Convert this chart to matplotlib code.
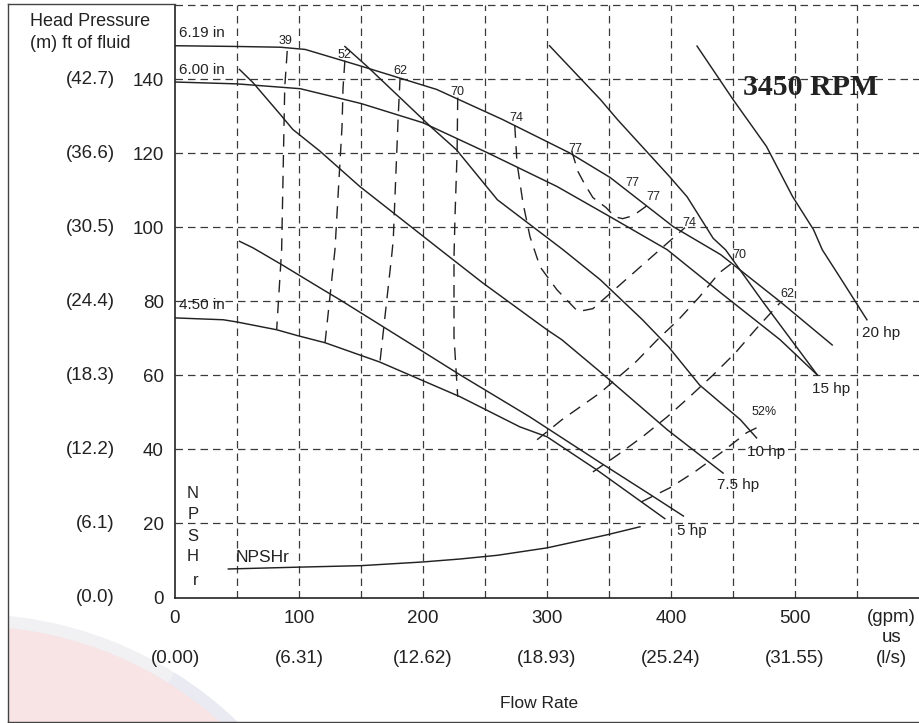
import matplotlib
matplotlib.use("Agg")
import matplotlib.pyplot as plt
from matplotlib.lines import Line2D
from matplotlib.patches import Wedge, Rectangle

# ---------------- data ----------------
# impeller head curves (flow gpm, head ft)
imp619_x = [0, 50, 85, 105, 150, 211, 264, 318, 351, 402, 440, 488, 530]
imp619_y = [149, 148.8, 148.6, 148, 143.5, 137.2, 129.1, 120.1, 113.4, 100.1, 92.6, 79.9, 68.2]
imp600_x = [0, 50, 101, 150, 200, 252, 308, 351, 397, 440, 488, 518]
imp600_y = [139.2, 138.7, 137.4, 133.4, 128.2, 120.1, 111, 102.8, 93.9, 82.3, 69.6, 60.1]
imp450_x = [0, 39, 50, 82, 99, 121, 165, 230, 278, 300, 340, 395]
imp450_y = [75.5, 75, 74.4, 72.3, 70.7, 68.8, 63.6, 54.2, 46.1, 43.4, 34.5, 21.3]
impeller_labels = ["6.19 in", "6.00 in", "4.50 in"]
impeller_label_y = [150.5, 140.5, 77.0]

# power curves
hp5_x = [52, 63, 86, 117, 133, 200, 230, 286, 343, 386, 410]
hp5_y = [96.2, 94.4, 89.9, 83.6, 80.4, 66.4, 60.1, 48.8, 36.4, 27.2, 22]
hp75_x = [52, 63, 85, 95, 117, 149, 214, 248, 300, 312, 343, 397, 442]
hp75_y = [142.6, 139, 130.4, 126.4, 120.5, 111, 93.9, 85, 72.3, 69.6, 60.9, 45.3, 33.6]
hp10_x = [137, 155, 206, 227, 260, 313, 343, 377, 398, 423, 456, 469]
hp10_y = [148.8, 143.4, 127.2, 120.9, 107.4, 93.9, 85.8, 75, 67.7, 57.4, 48, 43.1]
hp15_x = [302, 343, 357, 399, 413, 434, 444, 474, 518]
hp15_y = [149, 134.5, 129, 113.6, 108.2, 97, 93.9, 79.9, 60.1]
hp20_x = [421, 450, 477, 498, 515, 522, 536, 558]
hp20_y = [148.9, 134.5, 121.8, 108.3, 99.3, 93.9, 86.6, 75]
hp_labels = ["5 hp", "7.5 hp", "10 hp", "15 hp", "20 hp"]
hp_label_x = [405, 437, 461, 514, 554]
hp_label_y = [18.0, 30.4, 39.3, 56.4, 71.5]

# NPSHr curve
npsh_x = [43, 100, 150, 200, 230, 260, 300, 348, 375]
npsh_y = [7.7, 8.2, 8.6, 9.6, 10.4, 11.4, 13.4, 16.9, 19.1]

# iso-efficiency contours (%)
eff39_x = [90.5, 88.5, 86, 82]
eff39_y = [147.6, 137.8, 93.9, 72.4]
eff52_x = [137, 135.5, 134.7, 129, 121]
eff52_y = [145, 137.5, 127.2, 93.9, 68.8]
eff62_x = [181.5, 180, 176, 175, 165.3]
eff62_y = [140.3, 129.9, 96.6, 93.1, 63.6]
eff70_x = [228, 227.5, 225.8, 225, 225, 228]
eff70_y = [135, 120.1, 102.8, 91.8, 70.4, 54.2]
eff74_x = [274, 275.8, 280.6, 286.3, 294.4, 308, 325, 337, 411.3]
eff74_y = [127.5, 117.4, 106.6, 97.4, 89.3, 83.1, 77.2, 78, 99.9]
eff77_x = [320, 325, 330.6, 337, 347.6, 354.8, 361, 369.4, 380.6]
eff77_y = [120.5, 115, 111.5, 108, 105.3, 102.8, 102.3, 103.1, 105.8]
eff52r_x = [376, 399, 419, 440, 461, 470]
eff52r_y = [25.8, 29.6, 33.9, 39, 44.5, 46]
eff62r_x = [337, 357, 377, 397, 415, 434, 452, 468, 488]
eff62r_y = [33.9, 38.5, 43.4, 48.8, 54.2, 60.1, 66.1, 72.3, 79.6]
eff70r_x = [292, 312, 343, 371, 389, 406, 423, 439, 450]
eff70r_y = [42.6, 48, 55.3, 63.4, 69.6, 75, 81.2, 87.7, 90.5]

eff_labels = ["39", "52", "62", "70", "74", "77", "77", "77", "74", "70", "62", "52%"]
eff_label_x = [89.5, 137, 182, 228, 275, 322.6, 369, 385.5, 415, 455, 494, 475]
eff_label_y = [150.2, 146.6, 142.3, 136.6, 129.6, 121.2, 111.8, 108.2, 101, 92.6, 82, 50.1]

# axis labels
gpm_ticks = [0, 100, 200, 300, 400, 500]
gpm_labels = ["0", "100", "200", "300", "400", "500"]
ls_labels = ["(0.00)", "(6.31)", "(12.62)", "(18.93)", "(25.24)", "(31.55)"]
ft_ticks = [0, 20, 40, 60, 80, 100, 120, 140]
ft_labels = ["0", "20", "40", "60", "80", "100", "120", "140"]
m_labels = ["(0.0)", "(6.1)", "(12.2)", "(18.3)", "(24.4)", "(30.5)", "(36.6)", "(42.7)"]
npsh_letters = ["N", "P", "S", "H", "r"]
npsh_letter_y = [28.2, 22.3, 16.4, 11.0, 4.7]

# ---------------- figure ----------------
plt.rcParams['font.family'] = ['Liberation Sans', 'DejaVu Sans']
W, H = 919, 723
fig = plt.figure(figsize=(W / 100, H / 100), dpi=100)
fig.patch.set_facecolor("white")

# faint watermark swoosh in the lower-left corner (pixel units -> inches)
clip = Rectangle((8 / 100, 1 / 100), (W - 8) / 100, 1.3, transform=fig.dpi_scale_trans,
                 facecolor="none", edgecolor="none")
fig.add_artist(clip)
cx, cy = -30 / 100, -(1000 - H) / 100
for r, t1, t2, col in [(3.86, 47, 90, "#f1f1f3"),
                       (3.86, 30, 58, "#e9eaf2"),
                       (3.74, 30, 90, "#f8e3e5")]:
    wd = Wedge((cx, cy), r, t1, t2, transform=fig.dpi_scale_trans,
               facecolor=col, edgecolor="none", zorder=0)
    fig.add_artist(wd)
    wd.set_clip_path(clip)

ax_l, ax_r, ax_top, ax_bot = 175, 919, 5, 597.5
ax = fig.add_axes([ax_l / W, (H - ax_bot) / H, (ax_r - ax_l) / W, (ax_bot - ax_top) / H])
ax.set_xlim(0, 600)
ax.set_ylim(0, 160)
ax.patch.set_alpha(0)

ink = "#222222"
grid_c = "#3a3a3a"

# grid
for gx in range(50, 600, 50):
    ax.axvline(gx, color=grid_c, lw=0.9, ls=(0, (6, 4)), zorder=1)
for gy in range(20, 161, 20):
    ax.axhline(gy, color=grid_c, lw=0.9, ls=(0, (6, 4)), zorder=1, clip_on=False)

for s in ["top", "right"]:
    ax.spines[s].set_visible(False)
for s in ["left", "bottom"]:
    ax.spines[s].set_color(ink)
    ax.spines[s].set_linewidth(1.2)

# solid curves
solid_kw = dict(color=ink, lw=1.05, zorder=3, solid_joinstyle="round")
for xs, ys in [(imp619_x, imp619_y), (imp600_x, imp600_y), (imp450_x, imp450_y),
               (hp5_x, hp5_y), (hp75_x, hp75_y), (hp10_x, hp10_y),
               (hp15_x, hp15_y), (hp20_x, hp20_y), (npsh_x, npsh_y)]:
    ax.plot(xs, ys, **solid_kw)

# efficiency contours
dash_kw = dict(color=ink, lw=1.0, ls=(0, (9, 6)), zorder=3)
for xs, ys in [(eff39_x, eff39_y), (eff52_x, eff52_y), (eff62_x, eff62_y),
               (eff70_x, eff70_y), (eff74_x, eff74_y), (eff77_x, eff77_y),
               (eff52r_x, eff52r_y), (eff62r_x, eff62r_y), (eff70r_x, eff70r_y)]:
    ax.plot(xs, ys, **dash_kw)

# labels
for lab, ly in zip(impeller_labels, impeller_label_y):
    ax.text(3, ly, lab, fontsize=11, color=ink, ha="left", va="bottom", zorder=4)
for lab, lx, ly in zip(eff_labels, eff_label_x, eff_label_y):
    ax.text(lx, ly, lab, fontsize=9, color=ink, ha="center", va="center", zorder=4)
for lab, lx, ly in zip(hp_labels, hp_label_x, hp_label_y):
    ax.text(lx, ly, lab, fontsize=11, color=ink, ha="left", va="center", zorder=4)
ax.text(458, 137.7, "3450 RPM", fontsize=21.5, fontweight="bold", color=ink,
        family=["Liberation Serif", "DejaVu Serif"], ha="left", va="center", zorder=4)
ax.text(49, 10.9, "NPSHr", fontsize=12.5, color=ink, ha="left", va="center", zorder=4)
for lab, ly in zip(npsh_letters, npsh_letter_y):
    ax.text(14.5 if lab != "r" else 17, ly, lab, fontsize=12, color=ink, ha="center", va="center", zorder=4)

# ticks
ax.set_xticks(gpm_ticks)
ax.set_xticklabels(gpm_labels, fontsize=13.5, color=ink)
ax.set_yticks(ft_ticks)
ax.set_yticklabels(ft_labels, fontsize=13.5, color=ink)
ax.tick_params(axis="x", length=0, pad=9)
ax.tick_params(axis="y", length=0, pad=8)
for t, lab in zip(ft_ticks, m_labels):
    ax.text(-48.4, t, lab, fontsize=13.5, color=ink, ha="right", va="center", clip_on=False)
for t, lab in zip(gpm_ticks, ls_labels):
    ax.text(t, -16.4, lab, fontsize=13.5, color=ink, ha="center", va="center", clip_on=False)
ax.text(578, -5.3, "(gpm)", fontsize=13.5, color=ink, ha="center", va="center", clip_on=False)
ax.text(578, -10.7, "us", fontsize=13.5, color=ink, ha="center", va="center", clip_on=False)
ax.text(578, -16.4, "(l/s)", fontsize=13.5, color=ink, ha="center", va="center", clip_on=False)
ax.text(294, -28.6, "Flow Rate", fontsize=12.5, color=ink, ha="center", va="center", clip_on=False)

fig.text(30 / W, 1 - 22 / H, "Head Pressure", fontsize=13, color=ink, ha="left", va="center")
fig.text(30 / W, 1 - 44 / H, "(m) ft of fluid", fontsize=13, color=ink, ha="left", va="center")

# outer frame
fc = "#444444"
fig.add_artist(Line2D([8 / W, 8 / W], [1 - 4 / H, 1 - 722 / H], color=fc, lw=1.0))
fig.add_artist(Line2D([8 / W, 1], [1 - 722 / H, 1 - 722 / H], color=fc, lw=1.0))
fig.add_artist(Line2D([8 / W, 175 / W], [1 - 4 / H, 1 - 4 / H], color=fc, lw=1.0))

fig.savefig("out.png", dpi=100, facecolor="white")
